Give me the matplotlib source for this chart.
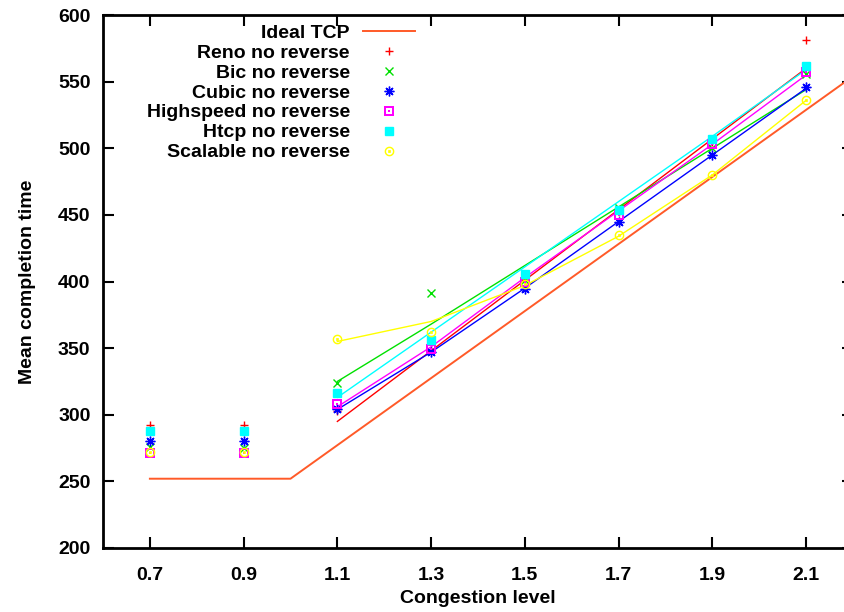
import matplotlib
matplotlib.use('Agg')
from matplotlib import pyplot as plt

plt.rcParams['font.family'] = ['Liberation Sans', 'DejaVu Sans']
plt.rcParams['font.weight'] = 'bold'

# measured points
levels = [0.7, 0.9, 1.1, 1.3, 1.5, 1.7, 1.9, 2.1]
reno = [292, 292, 303, 348, 401, 452, 505, 581]
bic = [276, 275, 324, 391, 401, 455, 500, 556]
cubic = [280, 280, 304, 347, 394, 445, 495, 546]
highspeed = [271, 271, 308, 349, 400, 450, 503, 557]
htcp = [288, 288, 316, 356, 406, 454, 507, 562]
scalable = [272, 272, 357, 362, 398, 435, 480, 536]

# fitted lines (no legend entry)
fit_levels = [1.1, 1.3, 1.5, 1.7, 1.9, 2.1]
reno_fit = [295, 348, 401, 454, 507, 560]
bic_fit = [325, 368, 412, 456, 500, 544]
cubic_fit = [304, 347, 395, 445, 495, 545]
highspeed_fit = [306, 351, 403, 453, 503, 555]
htcp_fit = [313, 362, 411, 460, 509, 559]
scalable_fit = [355, 370, 397, 434, 480, 536]

ideal_levels = [0.7, 1.0, 2.2]
ideal = [252, 252, 554]

fig = plt.figure(dpi=100, figsize=(8.45, 6.12))
ax = fig.add_axes([103 / 845, 64 / 612, 750 / 845, 533 / 612])

ax.plot(ideal_levels, ideal, c='#ff5a28', lw=1.4, label='Ideal TCP')

series = [
    ('Reno no reverse', reno, reno_fit, '#ff0000', '+', 6, 'none', 1.0),
    ('Bic no reverse', bic, bic_fit, '#00e000', 'x', 5.5, 'none', 1.0),
    ('Cubic no reverse', cubic, cubic_fit, '#0000ff', (8, 2, 0), 7, 'none', 1.0),
    ('Highspeed no reverse', highspeed, highspeed_fit, '#ff00ff', r'$\boxdot$', 7, '#ff00ff', 0),
    ('Htcp no reverse', htcp, htcp_fit, '#00ffff', 's', 5.5, '#00ffff', 1.0),
    ('Scalable no reverse', scalable, scalable_fit, '#ffff00', r'$\odot$', 7, '#ffff00', 0),
]

for name, vals, fit, col, mk, ms, fc, mw in series:
    ax.plot(fit_levels, fit, c=col, lw=1.0)
for name, vals, fit, col, mk, ms, fc, mw in series:
    ax.plot(levels, vals, ls='none', marker=mk, ms=ms, mec=col, mfc=fc,
            mew=mw, label=name)

ax.set_xlim(0.6, 2.2)
ax.set_ylim(200, 600)
ax.set_xticks(levels)
ax.set_xticklabels(['0.7', '0.9', '1.1', '1.3', '1.5', '1.7', '1.9', '2.1'])
ax.set_yticks(range(200, 601, 50))

for s in ax.spines.values():
    s.set_linewidth(2)
ax.tick_params(axis='both', direction='in', length=8, width=1.5,
               top=True, right=True, labelsize=14)
ax.tick_params(axis='x', pad=14)
ax.tick_params(axis='y', pad=9)

ax.set_xlabel('Congestion level', fontsize=14, fontweight='bold', labelpad=4)
ax.set_ylabel('Mean completion time', fontsize=14, fontweight='bold', labelpad=16)

leg = ax.legend(loc='upper right', bbox_to_anchor=(0.416, 0.983), frameon=False,
                markerfirst=False, fontsize=14, handlelength=2.7,
                labelspacing=0.12, handletextpad=0.65, borderaxespad=0,
                borderpad=0)
leg._legend_box._children[-1]._children[0].align = 'right'

plt.savefig('out.png', dpi=100)
